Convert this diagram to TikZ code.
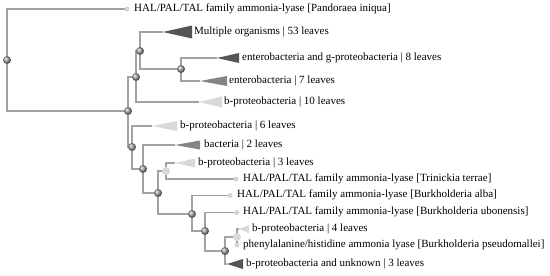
\documentclass[tikz,border=0pt]{standalone}
\usepackage{fontspec}
\setmainfont{Liberation Serif}
\usetikzlibrary{backgrounds}
\definecolor{branchgray}{HTML}{A2A2A2}
\definecolor{darktri}{HTML}{555555}
\definecolor{midtri}{HTML}{858585}
\definecolor{lighttri}{HTML}{D9D9D9}
\definecolor{leafgray}{HTML}{D4D4D4}
\begin{document}
\begin{tikzpicture}[x=1pt,y=-1pt,
    branch/.style={draw=branchgray, line width=1.3pt},
    inner/.style={circle, inner sep=0pt, minimum size=8pt, shading=ball, ball color=gray!75},
    weak/.style={circle, inner sep=0pt, minimum size=8pt, fill=lighttri},
    leaf/.style={circle, inner sep=0pt, minimum size=5pt, fill=leafgray},
    lab/.style={anchor=mid west, inner sep=0pt, font=\fontsize{11}{13}\selectfont}]
\useasboundingbox (0,0) rectangle (550,276);
% internal nodes
\foreach \n/\x/\y in {r0/7/60, n1/128/111, n2/136/77, n3/140/51, n4/181/69, n5/132/147,
    n6/143/169, n7/158/193, n8/192/214, n9/205/231, n10/225/251}
    \node[inner] (\n) at (\x,\y) {};
\node[weak] (m1) at (166,171) {};
\node[weak] (m2) at (237,237) {};
% collapsed clades
\foreach \n/\x/\y/\w/\h/\c in {c1/163/32/29/6.5/darktri, c2/217/58/22/5/darktri,
    c3/200/81/27/5/midtri, c4/199/102/23/5.5/lighttri, c5/152/126/25/5/lighttri,
    c6/175/145/25/4.5/midtri, c7/175/163/20/4.5/lighttri, c8/239/229/10/4/lighttri,
    c9/227/264/16/5/darktri} {
    \coordinate (\n) at (\x,\y);
    \fill[\c] (\n) -- ++(\w,-\h) -- ++(0,2*\h) -- cycle;
}
% leaves
\foreach \n/\x/\y in {f1/127/9, f2/236/179, f3/230/195.5, f4/237/212.5, f5/237/245}
    \node[leaf] (\n) at (\x,\y) {};
% labels
\node[lab] (t1) at (134,9) {HAL/PAL/TAL family ammonia-lyase [Pandoraea iniqua]};
\node[lab] (t2) at (194,32) {Multiple organisms | 53 leaves};
\node[lab] (t3) at (242,58) {enterobacteria and g-proteobacteria | 8 leaves};
\node[lab] (t4) at (229,81) {enterobacteria | 7 leaves};
\node[lab] (t5) at (224,102) {b-proteobacteria | 10 leaves};
\node[lab] (t6) at (180,126) {b-proteobacteria | 6 leaves};
\node[lab] (t7) at (204,145) {bacteria | 2 leaves};
\node[lab] (t8) at (198,163) {b-proteobacteria | 3 leaves};
\node[lab] (t9) at (243,179) {HAL/PAL/TAL family ammonia-lyase [Trinickia terrae]};
\node[lab] (t10) at (237,195.5) {HAL/PAL/TAL family ammonia-lyase [Burkholderia alba]};
\node[lab] (t11) at (243,212.5) {HAL/PAL/TAL family ammonia-lyase [Burkholderia ubonensis]};
\node[lab] (t12) at (252,229) {b-proteobacteria | 4 leaves};
\node[lab] (t13) at (243,245) {phenylalanine/histidine ammonia lyase [Burkholderia pseudomallei]};
\node[lab] (t14) at (246,264) {b-proteobacteria and unknown | 3 leaves};
% branches
\begin{scope}[on background layer]
\foreach \a/\b in {r0/f1, r0/n1, n1/n2, n1/n5, n2/n3, n2/c4, n3/c1, n3/n4, n4/c2, n4/c3,
    n5/c5, n5/n6, n6/c6, n6/n7, n7/m1, n7/n8, m1/c7, m1/f2, n8/f3, n8/n9, n9/f4, n9/n10,
    n10/m2, n10/c9, m2/c8, m2/f5}
    \draw[branch] (\a.center) |- (\b.center);
\end{scope}
\end{tikzpicture}
\end{document}
